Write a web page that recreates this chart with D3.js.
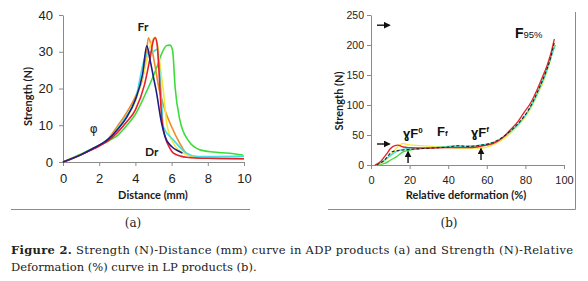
<!DOCTYPE html>
<html>
<head>
<meta charset="utf-8">
<script src="https://cdn.jsdelivr.net/npm/d3@7"></script>
<style>
  html, body { margin: 0; padding: 0; background: #fff; }
  svg { display: block; }
  .tick text { fill: #222; }
  .ttl { font-family: Lato, "Open Sans", sans-serif; font-weight: 700; fill: #1a1a1a; }
  .cap { font-family: "DejaVu Serif", serif; fill: #222; }
</style>
</head>
<body>
<svg id="fig" width="588" height="281"></svg>
<script>
// Figure 2 — (a) strength vs distance for ADP products, (b) strength vs relative deformation for LP products.

// ---- panel (a) data: [distance mm, strength N] ----
const distTicks = [0, 2, 4, 6, 8, 10];
const strengthTicksA = [0, 10, 20, 30, 40];
const aOrange = [[0,0],[1,2],[1.7,3.8],[2.5,6.3],[3,9.7],[3.5,13.3],[4,17.8],[4.45,24],[4.6,29],[4.72,33.8],[4.9,31],[5.09,26],[5.3,20],[5.46,17],[5.64,14],[6,9.6],[6.46,5],[6.7,3],[6.92,1.9],[7.5,1.1],[10,0.9]];
const aYellow = [[0,0],[1,2],[1.7,3.7],[2.5,6],[3,8.8],[3.5,12],[4,16.5],[4.5,25],[4.85,32],[5.1,34],[5.25,31],[5.37,26],[5.54,19.6],[5.73,10.5],[6.1,5.1],[6.65,2.4],[7.3,1.5],[8.5,1.1],[10,1]];
const aRed = [[0,0],[1,2],[1.7,3.6],[2.5,5.8],[3,8],[3.5,10.8],[4,14.2],[4.5,21],[4.8,28],[5,33.2],[5.09,33.8],[5.2,32],[5.3,25],[5.36,19.6],[5.45,12.3],[5.64,6.9],[5.9,3.8],[6.1,2.4],[6.5,1.6],[6.83,1.3],[8,1],[10,0.9]];
const aNavy = [[0,0],[1,2],[1.7,3.8],[2.5,6.2],[3,8.8],[3.5,12],[4,17],[4.4,24],[4.63,31.6],[4.8,28],[5.0,23],[5.14,19.6],[5.45,10.5],[5.64,6.9],[6,4.2],[6.46,2.8],[6.6,2.4]];
const aCyan = [[0,0],[1,2],[1.7,3.7],[2.5,6.2],[3,9],[3.5,12.5],[4,17],[4.5,28],[4.7,29.8],[4.9,30],[5.05,30.2],[5.18,30.7],[5.3,27],[5.42,19],[5.54,9.6],[6.1,6],[6.83,2.4],[7.4,1.5],[8.5,1.5],[10,1.6]];
const aGreen = [[0,0],[1,2.2],[1.7,3.8],[2.5,5.7],[3,7.2],[3.5,9.8],[4,13],[4.6,19],[5.2,26],[5.46,29.6],[5.73,31.7],[5.9,31.8],[6.05,30.5],[6.2,20],[6.46,11.4],[6.9,6],[7.57,3.3],[8.3,2.7],[8.84,2.5],[9.2,2.4],[9.94,1.9]];

// ---- panel (b) data: [relative deformation %, strength N] ----
const defTicks = [0, 20, 40, 60, 80, 100];
const strengthTicksB = [0, 50, 100, 150, 200, 250];
const bRed = [[2,0],[5,6],[8,18],[10,27],[12,32],[14,33],[16.6,30],[20,29],[30,28],[40,29],[50,29],[55,30],[60,33],[63.4,36],[68,45],[72,58],[76,72],[79,86],[83,105],[86,125],[89,148],[91,164],[93,184],[95,210]];
const bYellow = [[3,0],[6,4],[9,12],[12,24],[14,31],[16.6,36],[19,34],[21.8,33],[28,32],[34,30.5],[40,29],[48,28],[57,28],[62,32],[67,40],[72,52],[77,68],[82,90],[86,115],[90,145],[93,175],[95,202]];
const bGreen = [[3,0],[7.5,3],[10,8],[13.3,14],[16.6,22],[20,25],[25,27],[30,29],[40,31],[45,32],[50,31],[57,33],[62,36],[67,43],[72,55],[77,70],[82,92],[86,118],[90,150],[93,178],[95.5,200]];
const bCyan = [[3,0],[6,6],[9.3,14],[12.8,22],[16.6,26],[20,28],[30,29],[40,30],[50,31],[57,33],[62,36],[68,45],[73,58],[78,74],[83,98],[87,125],[90,148],[93,176],[95,198]];
const bBlack = [[3,0],[7,8],[11,22],[16.6,25],[20,26],[30,28],[40,30],[45,32],[50,31],[57,33],[62,36],[67,44],[72,56],[77,72],[82,94],[86,120],[90,150],[93,178],[95,205]];

const COL = { navy: "#1c1f86", red: "#e8202a", orange: "#f08a24", yellow: "#f6e83a", cyan: "#3fe0e6", green: "#3ddc3a", black: "#222" };
const AXIS = "#8a8a8a";

const svg = d3.select("#fig");
svg.append("rect").attr("width", 588).attr("height", 281).attr("fill", "#fff");

svg.append("defs").append("marker")
  .attr("id", "ah").attr("viewBox", "0 0 10 10").attr("refX", 8).attr("refY", 5)
  .attr("markerWidth", 5).attr("markerHeight", 5).attr("orient", "auto")
  .append("path").attr("d", "M0,0 L10,5 L0,10 z").attr("fill", "#111");

function styleAxis(g, fs) {
  g.select(".domain").attr("stroke", AXIS);
  g.selectAll(".tick line").attr("stroke", AXIS);
  g.selectAll(".tick text").attr("font-family", "'Liberation Sans', Arial, sans-serif").attr("font-size", fs);
}

// ================= panel (a) =================
const xa = d3.scaleLinear().domain([0, 10]).range([63, 244]);
const ya = d3.scaleLinear().domain([0, 40]).range([162, 15]);

svg.append("g").attr("transform", "translate(0,162)")
  .call(d3.axisBottom(xa).tickValues(distTicks).tickSize(4).tickPadding(8).tickSizeOuter(0))
  .call((g) => styleAxis(g, 13));
svg.append("g").attr("transform", "translate(63,0)")
  .call(d3.axisLeft(ya).tickValues(strengthTicksA).tickSize(4).tickPadding(6).tickSizeOuter(0))
  .call((g) => styleAxis(g, 13));

const lineA = d3.line().x((d) => xa(d[0])).y((d) => ya(d[1])).curve(d3.curveMonotoneX);
[[aGreen, COL.green], [aOrange, COL.orange], [aYellow, COL.yellow], [aCyan, COL.cyan], [aRed, COL.red], [aNavy, COL.navy]]
  .forEach(([pts, c]) => {
    svg.append("path").datum(pts).attr("d", lineA)
      .attr("fill", "none").attr("stroke", c).attr("stroke-width", 1.6).attr("stroke-linejoin", "round");
  });

svg.append("text").attr("class", "ttl").attr("font-size", 12)
  .attr("x", xa(4.42)).attr("y", ya(35.6)).attr("text-anchor", "middle").text("Fr");
svg.append("text").attr("font-family", "'DejaVu Sans', sans-serif").attr("font-size", 12).attr("fill", "#222")
  .attr("x", xa(1.7)).attr("y", ya(7.9)).attr("text-anchor", "middle").text("φ");
svg.append("text").attr("class", "ttl").attr("font-size", 12)
  .attr("x", xa(4.9)).attr("y", ya(1.6)).attr("text-anchor", "middle").text("Dr");

svg.append("text").attr("class", "ttl").attr("font-size", 11)
  .attr("x", 153).attr("y", 199).attr("text-anchor", "middle").text("Distance (mm)");
svg.append("text").attr("class", "ttl").attr("font-size", 11)
  .attr("transform", "translate(28,96.5) rotate(-90)").attr("dy", "0.35em")
  .attr("text-anchor", "middle").text("Strength (N)");

// ================= panel (b) =================
const xb = d3.scaleLinear().domain([0, 100]).range([371, 564]);
const yb = d3.scaleLinear().domain([0, 250]).range([165, 15]);

svg.append("g").attr("transform", "translate(0,165)")
  .call(d3.axisBottom(xb).tickValues(defTicks).tickSize(4).tickPadding(7).tickSizeOuter(0))
  .call((g) => styleAxis(g, 11));
svg.append("g").attr("transform", "translate(371,0)")
  .call(d3.axisLeft(yb).tickValues(strengthTicksB).tickSize(4).tickPadding(3).tickSizeOuter(0))
  .call((g) => styleAxis(g, 10.5));

const lineB = d3.line().x((d) => xb(d[0])).y((d) => yb(d[1])).curve(d3.curveMonotoneX);
[[bGreen, COL.green, null], [bYellow, COL.yellow, null], [bCyan, COL.cyan, null], [bRed, COL.red, null], [bBlack, COL.black, "3 2"]]
  .forEach(([pts, c, dash]) => {
    svg.append("path").datum(pts).attr("d", lineB)
      .attr("fill", "none").attr("stroke", c).attr("stroke-width", dash ? 1.1 : 1.3)
      .attr("stroke-dasharray", dash);
  });

// arrows
function arrow(x1, y1, x2, y2) {
  svg.append("line").attr("x1", x1).attr("y1", y1).attr("x2", x2).attr("y2", y2)
    .attr("stroke", "#111").attr("stroke-width", 1.4).attr("marker-end", "url(#ah)");
}
arrow(xb(3.1), yb(233), xb(9.5), yb(233));
arrow(xb(3.1), yb(35), xb(9.5), yb(35));
arrow(xb(19.2), yb(3.3), xb(19.2), yb(22));
arrow(xb(57), yb(8.3), xb(57), yb(27));

function sym(p, s, main, sup, small) {
  const t = svg.append("text").attr("x", xb(p)).attr("y", yb(s))
    .attr("font-family", "'Liberation Sans', Arial, sans-serif").attr("fill", "#111");
  t.append("tspan").attr("font-weight", 700).attr("font-size", 13).text(main);
  if (sup) t.append("tspan").attr("font-size", 8).attr("dy", small ? 0 : -5).attr("font-weight", 700).text(sup);
}
sym(16.6, 45, "ɣF", "0");
sym(34.2, 48, "F", "f", true);
sym(51.8, 46.7, "ɣF", "f");
const f95 = svg.append("text").attr("x", xb(74.6)).attr("y", yb(211.7))
  .attr("font-family", "'Liberation Sans', Arial, sans-serif").attr("fill", "#111");
f95.append("tspan").attr("font-size", 14).attr("font-weight", 700).text("F");
f95.append("tspan").attr("font-size", 9.5).text("95%");

svg.append("text").attr("class", "ttl").attr("font-size", 11)
  .attr("x", 466).attr("y", 199).attr("text-anchor", "middle").text("Relative deformation (%)");
svg.append("text").attr("class", "ttl").attr("font-size", 11)
  .attr("transform", "translate(339,101) rotate(-90)").attr("dy", "0.35em")
  .attr("text-anchor", "middle").text("Strength (N)");

// ---- frames ----
svg.append("line").attr("x1", 11).attr("x2", 250).attr("y1", 209.5).attr("y2", 209.5).attr("stroke", AXIS);
svg.append("line").attr("x1", 328).attr("x2", 575.5).attr("y1", 209.5).attr("y2", 209.5).attr("stroke", AXIS);
svg.append("line").attr("x1", 575.5).attr("x2", 575.5).attr("y1", 12).attr("y2", 209.5).attr("stroke", AXIS);

// ---- sub-labels and caption ----
svg.append("text").attr("class", "cap").attr("font-size", 12).attr("x", 133).attr("y", 227).attr("text-anchor", "middle").text("(a)");
svg.append("text").attr("class", "cap").attr("font-size", 12).attr("x", 449).attr("y", 227).attr("text-anchor", "middle").text("(b)");

const c1 = svg.append("text").attr("class", "cap").attr("font-size", 11.5)
  .attr("x", 11).attr("y", 254).attr("textLength", 562).attr("lengthAdjust", "spacing");
c1.append("tspan").attr("font-weight", 700).text("Figure 2.");
c1.append("tspan").text(" Strength (N)-Distance (mm) curve in ADP products (a) and Strength (N)-Relative");
svg.append("text").attr("class", "cap").attr("font-size", 11.5)
  .attr("x", 11).attr("y", 271).text("Deformation (%) curve in LP products (b).");
</script>
</body>
</html>
